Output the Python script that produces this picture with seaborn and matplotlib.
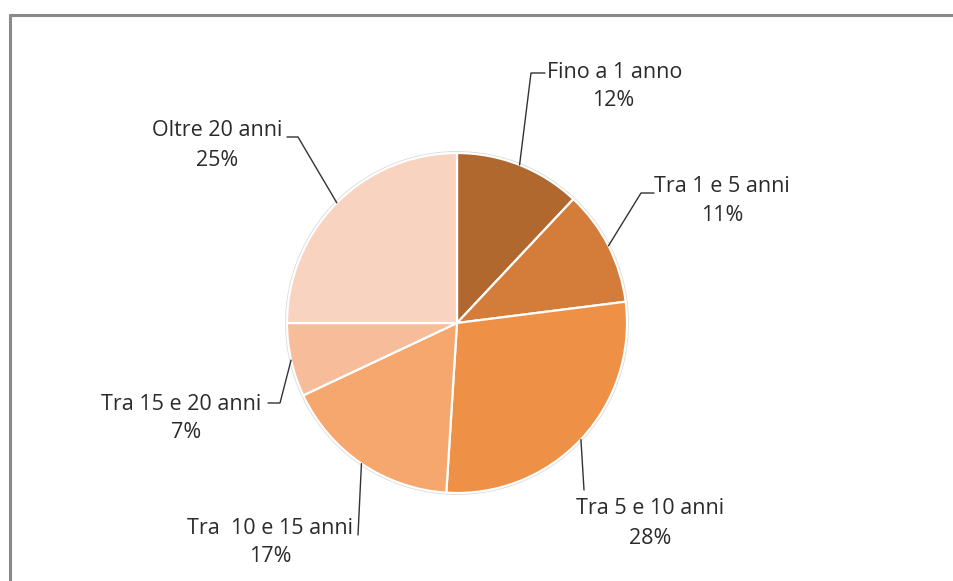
import numpy as np
import matplotlib
matplotlib.use("Agg")
import matplotlib.pyplot as plt
import seaborn as sns
from matplotlib.lines import Line2D

# data
categories = ["Fino a 1 anno", "Tra 1 e 5 anni", "Tra 5 e 10 anni",
              "Tra  10 e 15 anni", "Tra 15 e 20 anni", "Oltre 20 anni"]
shares = [12, 11, 28, 17, 7, 25]
colors = ["#B0682E", "#D47C3A", "#EE9045", "#F5A76E", "#F7BC9A", "#F8D4C0"]

W, H = 954, 581
CX, CY, R = 457, 323, 170

# label layout in pixel space: elbow points, name centre, pct centre
layout = {
    "Fino a 1 anno":     dict(path=[(531, 73), (545, 73)], name=(615, 72), pct=(613, 100)),
    "Tra 1 e 5 anni":    dict(path=[(641, 193), (654, 193)], name=(722, 186), pct=(722, 215)),
    "Tra 5 e 10 anni":   dict(path=[(584, 490)], name=(650, 508), pct=(650, 538)),
    "Tra  10 e 15 anni": dict(path=[(358, 535)], name=(270, 528), pct=(270, 557)),
    "Tra 15 e 20 anni":  dict(path=[(280, 403), (268, 403)], name=(181, 405), pct=(186, 433)),
    "Oltre 20 anni":     dict(path=[(298, 137), (287, 137)], name=(217, 130), pct=(217, 160)),
}

sns.set_theme(style="white")
plt.rcParams['font.family'] = ['Open Sans', 'DejaVu Sans']

fig = plt.figure(figsize=(W / 100, H / 100), dpi=100)
ax = fig.add_axes([0, 0, 1, 1])

def py(y):
    return H - y

# faint shadow ring
ax.add_patch(plt.Circle((CX, py(CY)), R + 1.2, color="#dadada", zorder=0))

wedges, _ = ax.pie(shares, colors=colors, startangle=90, counterclock=False,
                   center=(CX, py(CY)), radius=R,
                   wedgeprops=dict(edgecolor="white", linewidth=1.6))
for w in wedges:
    w.set_zorder(1)

ax.set_xlim(0, W)
ax.set_ylim(0, H)
ax.set_aspect('equal')
ax.axis('off')

for w, cat, val in zip(wedges, categories, shares):
    mid = np.deg2rad((w.theta1 + w.theta2) / 2)
    x0 = CX + R * np.cos(mid)
    y0 = py(CY) + R * np.sin(mid)
    lay = layout[cat]
    xs = [x0] + [p[0] for p in lay["path"]]
    ys = [y0] + [py(p[1]) for p in lay["path"]]
    ax.plot(xs, ys, color="#333333", lw=1.0, zorder=3)
    nx, ny = lay["name"]
    ax.text(nx, py(ny), cat, ha="center", va="center", fontsize=15.5, color="#2b2b2b")
    qx, qy = lay["pct"]
    ax.text(qx, py(qy), f"{val}%", ha="center", va="center", fontsize=15.5, color="#2b2b2b")

# chart frame (top and left edges visible)
fig.add_artist(Line2D([10 / W, 1], [1 - 15 / H, 1 - 15 / H], color="#8a8a8a", lw=2.2))
fig.add_artist(Line2D([10 / W, 10 / W], [0, 1 - 15 / H], color="#8a8a8a", lw=2.2))

fig.savefig("out.png", dpi=100, facecolor="white")
